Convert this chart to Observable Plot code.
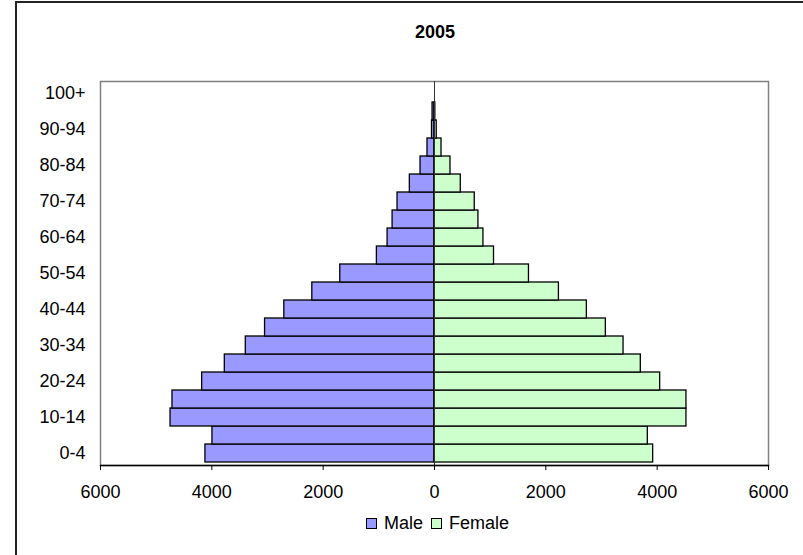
<!DOCTYPE html>
<html>
<head>
<meta charset="utf-8">
<script src="https://cdn.jsdelivr.net/npm/d3@7"></script>
<script src="https://cdn.jsdelivr.net/npm/@observablehq/plot@0.6"></script>
<style>
  html, body { margin: 0; padding: 0; background: #fff; }
  #wrap { position: relative; width: 803px; height: 555px; overflow: hidden; font-family: "Liberation Sans", Arial, sans-serif; }
  #border { position: absolute; left: 15px; top: 1px; width: 900px; height: 700px; border: 2px solid #222; box-sizing: border-box; }
  #title { position: absolute; left: 335px; width: 200px; top: 22px; text-align: center; font-weight: bold; font-size: 18px; color: #000; }
  #legend { position: absolute; left: 366px; top: 513px; display: flex; align-items: center; font-size: 18px; color: #000; }
  .sw { width: 9px; height: 9px; border: 1px solid #000; display: inline-block; margin-right: 7px; }
  #chart { position: absolute; left: 0; top: 0; }
</style>
</head>
<body>
<div id="wrap">
  <div id="border"></div>
  <div id="chart"></div>
  <div id="title">2005</div>
  <div id="legend"></div>
</div>
<script>
const title = "2005";
const ages = ["0-4","5-9","10-14","15-19","20-24","25-29","30-34","35-39","40-44","45-49","50-54","55-59","60-64","65-69","70-74","75-79","80-84","85-89","90-94","95-99","100+"];
const male =   [4115, 3989, 4742, 4707, 4174, 3767, 3390, 3044, 2698, 2195, 1693, 1035, 843, 753, 664, 443, 251, 126, 45, 35, 0];
const female = [3928, 3832, 4526, 4526, 4054, 3706, 3396, 3078, 2737, 2235, 1697, 1069, 879, 789, 723, 472, 287, 126, 40, 15, 0];
const xTicks = [-6000, -4000, -2000, 0, 2000, 4000, 6000];
const yLabels = ages.filter((d, i) => i % 2 === 0);
const seriesNames = ["Male", "Female"];
const colors = ["#9999ff", "#ccffcc"];

const maleData = ages.map((a, i) => ({age: a, value: -male[i]}));
const femaleData = ages.map((a, i) => ({age: a, value: female[i]}));

const chart = Plot.plot({
  width: 803,
  height: 555,
  marginLeft: 100,
  marginRight: 35,
  marginTop: 81,
  marginBottom: 90,
  style: {fontFamily: "'Liberation Sans', Arial, sans-serif", fontSize: "18px", color: "#000", background: "transparent"},
  x: {domain: [-6000, 6000]},
  y: {domain: ages.slice().reverse(), padding: 0},
  marks: [
    Plot.frame({stroke: "#808080", strokeWidth: 1.5}),
    Plot.barX(maleData, {x: "value", y: "age", fill: colors[0], stroke: "#000", strokeWidth: 1.3}),
    Plot.barX(femaleData, {x: "value", y: "age", fill: colors[1], stroke: "#000", strokeWidth: 1.3}),
    Plot.ruleX([0], {stroke: "#333", strokeWidth: 1}),
    Plot.axisX({ticks: xTicks, tickFormat: d => String(Math.abs(d)), tickSize: 5, tickPadding: 15, fontSize: 18, stroke: "#000", label: null}),
    Plot.axisY({ticks: yLabels, tickSize: 0, tickPadding: 15, fontSize: 18, label: null}),
    Plot.frame({anchor: "bottom", stroke: "#000", strokeWidth: 1.3})
  ]
});
document.getElementById("chart").appendChild(chart);

const legend = document.getElementById("legend");
seriesNames.forEach((n, i) => {
  const sw = document.createElement("span");
  sw.className = "sw";
  sw.style.background = colors[i];
  legend.appendChild(sw);
  const t = document.createElement("span");
  t.textContent = n;
  t.style.marginRight = i === 0 ? "8px" : "0";
  legend.appendChild(t);
});
document.getElementById("title").textContent = title;
</script>
</body>
</html>
